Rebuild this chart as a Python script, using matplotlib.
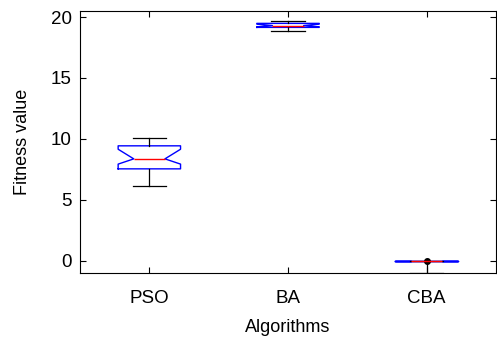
import matplotlib.pyplot as plt

plt.rcParams['font.family'] = ['Liberation Sans', 'DejaVu Sans']

algorithms = ['PSO', 'BA', 'CBA']
med = [8.36, 19.30, 0.0]
q1 = [7.54, 19.15, 0.0]
q3 = [9.43, 19.48, 0.0]
whislo = [6.15, 18.82, -0.97]
whishi = [10.08, 19.67, 0.0]
cilo = [7.93, 19.20, 0.0]
cihi = [9.15, 19.42, 0.0]
fliers = [[], [], [0.0]]

stats = []
for i in range(len(algorithms)):
    stats.append(dict(med=med[i], q1=q1[i], q3=q3[i], whislo=whislo[i], whishi=whishi[i],
                      cilo=cilo[i], cihi=cihi[i], fliers=fliers[i], label=algorithms[i]))

fig = plt.figure(figsize=(4.97, 3.42), dpi=100)
ax = fig.add_axes([0.161, 0.202, 0.837, 0.766])

ax.bxp(stats, positions=[1, 2, 3], widths=0.45, shownotches=True,
       boxprops=dict(color='blue', linewidth=1.0),
       medianprops=dict(color='red', linewidth=1.0),
       whiskerprops=dict(color='black', linewidth=0.9),
       capprops=dict(color='black', linewidth=0.9),
       capwidths=0.24,
       flierprops=dict(marker='o', markerfacecolor='black', markeredgecolor='black', markersize=4))

ax.set_xlim(0.5, 3.5)
ax.set_ylim(-1, 20.5)
ax.set_yticks([0, 5, 10, 15, 20])
ax.tick_params(direction='in', top=True, right=True, labelsize=13.5, length=4)
ax.tick_params(axis='y', pad=6)
ax.tick_params(axis='x', pad=12)
ax.set_xlabel('Algorithms', fontsize=13, labelpad=9)
ax.set_ylabel('Fitness value', fontsize=13, labelpad=14)

fig.savefig('out.png', dpi=100)
